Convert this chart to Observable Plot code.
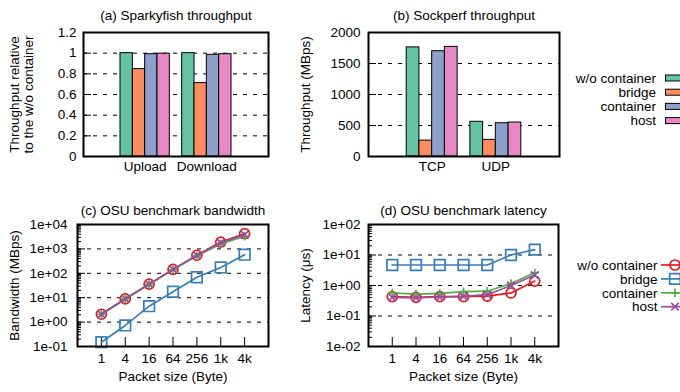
<!DOCTYPE html>
<html>
<head>
<meta charset="utf-8">
<script src="https://cdn.jsdelivr.net/npm/d3@7"></script>
<script src="https://cdn.jsdelivr.net/npm/@observablehq/plot@0.6"></script>
<style>
  body { margin: 0; background: #fff; }
  #root { position: relative; width: 680px; height: 392px; overflow: hidden; background: #fff; }
  #root svg { position: absolute; }
</style>
</head>
<body>
<div id="root"></div>
<script>
// ---------- data ----------
const series = ["w/o container", "bridge", "container", "host"];
const barColors = ["#66c2a5", "#fc8d62", "#8da0cb", "#e78ac3"];
const lineColors = ["#e41a1c", "#377eb8", "#4daf4a", "#984ea3"];

// (a) Sparkyfish throughput (relative)
const sparkyCats = ["Upload", "Download"];
const sparkyWo = [1.0, 1.0];
const sparkyBridge = [0.846, 0.71];
const sparkyContainer = [0.99, 0.984];
const sparkyHost = [0.995, 0.99];
const sparkyTicks = [0, 0.2, 0.4, 0.6, 0.8, 1, 1.2];

// (b) Sockperf throughput (MBps)
const sockCats = ["TCP", "UDP"];
const sockWo = [1760, 560];
const sockBridge = [256, 268];
const sockContainer = [1698, 537];
const sockHost = [1768, 548];
const sockTicks = [0, 500, 1000, 1500, 2000];

// (c)/(d) packet sizes
const sizeLabels = ["1", "4", "16", "64", "256", "1k", "4k"];

// (c) OSU bandwidth (MBps)
const bwWo = [2.1, 8.9, 36, 145, 550, 1900, 4200];
const bwBridge = [0.15, 0.73, 4.5, 17.6, 69, 174, 580];
const bwContainer = [2.1, 8.9, 35, 140, 520, 1600, 3300];
const bwHost = [2.1, 9.0, 36, 145, 540, 1800, 3800];
const bwTicks = [0.1, 1, 10, 100, 1000, 10000];

// (d) OSU latency (us)
const latWo = [0.43, 0.41, 0.43, 0.43, 0.45, 0.57, 1.4];
const latBridge = [4.7, 4.7, 4.7, 4.7, 4.7, 10, 15];
const latContainer = [0.57, 0.52, 0.55, 0.63, 0.65, 1.16, 2.6];
const latHost = [0.41, 0.39, 0.42, 0.44, 0.5, 1.0, 2.2];
const latTicks = [0.01, 0.1, 1, 10, 100];

// ---------- style ----------
const FONT = '"Liberation Sans", Arial, Helvetica, sans-serif';
const FS = 13.5;
const BW = 0.2; // clustered bar width (group spacing 1)
const root = document.getElementById("root");

const plusSym = {draw(ctx) { const a = 4.2; ctx.moveTo(-a, 0); ctx.lineTo(a, 0); ctx.moveTo(0, -a); ctx.lineTo(0, a); }};
const timesSym = {draw(ctx) { const a = 3.8; ctx.moveTo(-a, -a); ctx.lineTo(a, a); ctx.moveTo(-a, a); ctx.lineTo(a, -a); }};
const syms = ["circle", "square", plusSym, timesSym];
const symR = [5, 6, 5, 5];
const d3Syms = [d3.symbolCircle, d3.symbolSquare, plusSym, timesSym];

function place(svg, left, top) {
  svg.style.left = left + "px";
  svg.style.top = top + "px";
  root.appendChild(svg);
  return svg;
}

function logFmt(d) {
  const e = Math.round(Math.log10(d));
  return "1e" + (e < 0 ? "-" : "+") + String(Math.abs(e)).padStart(2, "0");
}

function barPanel(o) {
  const rows = o.cats.flatMap((c, g) => series.map((s, k) => ({g, k, s, v: o.vals[k][g]})));
  const fw = o.width - o.ml - o.mr;
  const svg = Plot.plot({
    width: o.width, height: o.height,
    marginLeft: o.ml, marginRight: o.mr, marginTop: o.mt, marginBottom: o.mb,
    style: {fontFamily: FONT, background: "transparent", overflow: "visible"},
    x: {domain: [-1, 2], axis: null},
    y: {domain: o.domain, axis: null},
    color: {domain: series, range: barColors},
    marks: [
      Plot.ruleY(o.ticks.slice(1, -1), {stroke: "#000", strokeWidth: 1, strokeDasharray: "4,6"}),
      Plot.rect(rows, {x1: d => d.g + (d.k - 2) * BW, x2: d => d.g + (d.k - 1) * BW, y1: () => 0, y2: "v", fill: "s", stroke: "#000", strokeWidth: 1}),
      Plot.ruleY(o.ticks, {insetRight: fw - 8, stroke: "#000", strokeWidth: 1}),
      Plot.text(o.ticks, {y: d => d, text: o.fmt, frameAnchor: "left", textAnchor: "end", dx: o.tickDx, fontSize: FS, fontFamily: FONT}),
      Plot.text(o.cats, {x: (d, i) => i, text: d => d, frameAnchor: "bottom", dy: 14, fontSize: FS, fontFamily: FONT}),
      Plot.text([o.title], {text: d => d, frameAnchor: "top", dy: -22, fontSize: FS, fontFamily: FONT}),
      Plot.text([o.ylabel], {text: d => d, frameAnchor: "left", textAnchor: "middle", dx: o.labelDx, rotate: -90, fontSize: FS, fontFamily: FONT, lineHeight: 1.05}),
      Plot.frame({stroke: "#000", strokeWidth: 2})
    ]
  });
  return place(svg, o.left, o.top);
}

function linePanel(o) {
  const fw = o.width - o.ml - o.mr, fh = o.height - o.mt - o.mb;
  const e0 = Math.round(Math.log10(o.domain[0])), e1 = Math.round(Math.log10(o.domain[1]));
  const minors = [];
  for (let e = e0; e < e1; e++) for (let k = 2; k <= 9; k++) minors.push(k * Math.pow(10, e));
  const marks = [
    Plot.ruleY(o.ticks.slice(1, -1), {stroke: "#000", strokeWidth: 1, strokeDasharray: "4,6"}),
    Plot.ruleY(minors, {insetRight: fw - 4, stroke: "#000", strokeWidth: 1}),
    Plot.ruleY(o.ticks, {insetRight: fw - 8, stroke: "#000", strokeWidth: 1}),
    Plot.ruleX(d3.range(sizeLabels.length), {insetTop: fh - 9, stroke: "#000", strokeWidth: 1})
  ];
  series.forEach((s, k) => {
    const pts = o.vals[k].map((v, i) => ({i, v}));
    marks.push(Plot.line(pts, {x: "i", y: "v", stroke: lineColors[k], strokeWidth: 1.7}));
    marks.push(Plot.dot(pts, {x: "i", y: "v", stroke: lineColors[k], fill: "none", symbol: syms[k], r: symR[k], strokeWidth: 1.7}));
  });
  marks.push(
    Plot.text(o.ticks, {y: d => d, text: logFmt, frameAnchor: "left", textAnchor: "end", dx: o.tickDx, fontSize: FS, fontFamily: FONT}),
    Plot.text(sizeLabels, {x: (d, i) => i, text: d => d, frameAnchor: "bottom", dy: 16, fontSize: FS, fontFamily: FONT}),
    Plot.text(["Packet size (Byte)"], {text: d => d, frameAnchor: "bottom", dy: 34, fontSize: FS, fontFamily: FONT}),
    Plot.text([o.title], {text: d => d, frameAnchor: "top", dy: -19, fontSize: FS, fontFamily: FONT}),
    Plot.text([o.ylabel], {text: d => d, frameAnchor: "left", textAnchor: "middle", dx: o.labelDx, rotate: -90, fontSize: FS, fontFamily: FONT}),
    Plot.frame({stroke: "#000", strokeWidth: 2})
  );
  const svg = Plot.plot({
    width: o.width, height: o.height,
    marginLeft: o.ml, marginRight: o.mr, marginTop: o.mt, marginBottom: o.mb,
    style: {fontFamily: FONT, background: "transparent", overflow: "visible"},
    x: {domain: [-1, 7], axis: null},
    y: {type: "log", domain: o.domain, axis: null},
    marks
  });
  return place(svg, o.left, o.top);
}

// (a)
barPanel({
  cats: sparkyCats, vals: [sparkyWo, sparkyBridge, sparkyContainer, sparkyHost],
  ticks: sparkyTicks, fmt: d => String(+d.toFixed(1)), domain: [0, 1.2],
  title: "(a) Sparkyfish throughput", ylabel: "Throughput relative\nto the w/o container",
  left: 0, top: 0, width: 280, height: 190, ml: 83, mr: 12, mt: 32, mb: 34, labelDx: -62, tickDx: -7
});

// (b)
const svgB = barPanel({
  cats: sockCats, vals: [sockWo, sockBridge, sockContainer, sockHost],
  ticks: sockTicks, fmt: d => String(d), domain: [0, 2000],
  title: "(b) Sockperf throughput", ylabel: "Throughput (MBps)",
  left: 280, top: 0, width: 400, height: 190, ml: 88, mr: 121, mt: 32, mb: 34, labelDx: -63, tickDx: -8
});
{
  const g = d3.select(svgB).append("g").attr("font-family", FONT).attr("font-size", FS);
  series.forEach((s, k) => {
    const y = 78 + k * 14.2;
    g.append("text").attr("x", 376).attr("y", y).attr("dy", "0.35em").attr("text-anchor", "end").attr("fill", "#000").text(s);
    g.append("rect").attr("x", 385.5).attr("y", y - 3).attr("width", 26).attr("height", 6)
      .attr("fill", barColors[k]).attr("stroke", "#000").attr("stroke-width", 1);
  });
}

// (c)
linePanel({
  vals: [bwWo, bwBridge, bwContainer, bwHost], ticks: bwTicks, domain: [0.1, 10000],
  title: "(c) OSU benchmark bandwidth", ylabel: "Bandwidth (MBps)",
  left: 0, top: 190, width: 280, height: 202, ml: 77, mr: 12, mt: 34, mb: 46, labelDx: -63, tickDx: -10
});

// (d)
const svgD = linePanel({
  vals: [latWo, latBridge, latContainer, latHost], ticks: latTicks, domain: [0.01, 100],
  title: "(d) OSU benchmark latency", ylabel: "Latency (\u03bcs)",
  left: 280, top: 190, width: 400, height: 202, ml: 88, mr: 122, mt: 34, mb: 46, labelDx: -63, tickDx: -8
});
{
  const g = d3.select(svgD).append("g").attr("font-family", FONT).attr("font-size", FS);
  series.forEach((s, k) => {
    const y = 75 + k * 13.9;
    g.append("text").attr("x", 377.5).attr("y", y).attr("dy", "0.35em").attr("text-anchor", "end").attr("fill", "#000").text(s);
    g.append("line").attr("x1", 381).attr("x2", 410).attr("y1", y).attr("y2", y)
      .attr("stroke", lineColors[k]).attr("stroke-width", 1.7);
    g.append("path").attr("transform", `translate(395,${y})`)
      .attr("d", d3.symbol().type(d3Syms[k]).size(Math.PI * symR[k] * symR[k])())
      .attr("fill", "none").attr("stroke", lineColors[k]).attr("stroke-width", 1.7);
  });
}
</script>
</body>
</html>
